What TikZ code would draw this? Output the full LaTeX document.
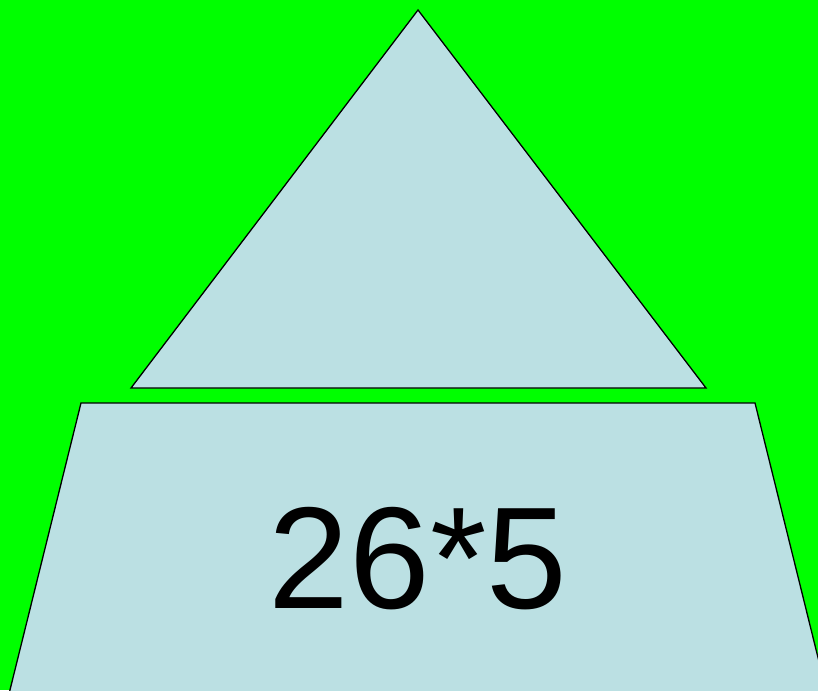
\documentclass[tikz,border=0pt]{standalone}
\usepackage{fontspec}
\setmainfont{Liberation Sans}
\definecolor{bggreen}{HTML}{00FF00}
\definecolor{shapefill}{HTML}{BBE0E3}
\begin{document}
\begin{tikzpicture}[x=1pt,y=-1pt,
  shapestyle/.style={draw=black,fill=shapefill,line width=1.3pt,line join=miter}]
\useasboundingbox (0,0) rectangle (818,690);
\clip (0,0) rectangle (818,690);
\fill[bggreen] (0,0) rectangle (818,690);
\draw[shapestyle] (418,10) -- (706,388) -- (131,388) -- cycle;
\draw[shapestyle] (81,403) -- (755,403) -- (828,698) -- (8,698) -- cycle;
\node[anchor=base,inner sep=0pt,font=\fontsize{145}{150}\selectfont] (label) at (418,608) {26*5};
\end{tikzpicture}
\end{document}
